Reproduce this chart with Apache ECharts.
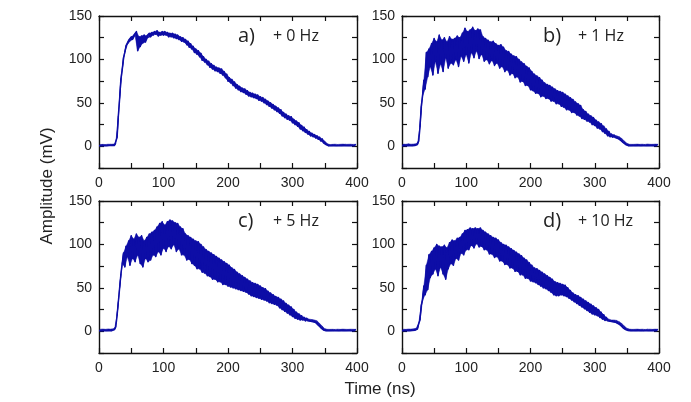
<!DOCTYPE html>
<html><head><meta charset="utf-8">
<script src="https://cdn.jsdelivr.net/npm/echarts@6/dist/echarts.min.js"></script>
<style>html,body{margin:0;padding:0;background:#fff}#c{width:691px;height:402px}</style>
</head><body><div id="c"></div>
<script>
// Sample times: "lo" values at t = 0,4,8,...,396 ns ; "hi" values at t = 2,6,10,...,398 ns
const xTicks = [0, 100, 200, 300, 400];
const yTicks = [0, 50, 100, 150];
const panelLetters = ['a)', 'b)', 'c)', 'd)'];
const panelFreqs = ['+ 0 Hz', '+ 1 Hz', '+ 5 Hz', '+ 10 Hz'];

const aLo = [0.5,0.8,0.6,0.7,1,0.8,1,10,55,88,
  108,117,121,123,127,110,115,119,120,125,
  126,128,129,127,128,128,128,126,126,125,
  124,123,121,120,117,114,112,108,106,103,
  99,97,94,91,89,87,86,84,82,79,
  75,73,70,67,65,63,62,60,58,57,
  56,55,53,52,50,48,46,44,42,40,
  38,35,33,31,30,27,25,23,20,18,
  16,14,12,11,9.5,8,6,4,2,0.6,
  0.6,0.8,0.5,0.7,0.6,0.9,0.7,0.6,0.8,0.7];
const aHi = [2,2.2,2,2.4,2.3,2.5,3,35,78,102,
  116,122,126,128,132,126,127,128,127,130,
  131,132,133,131,132,132,131,130,130,129,
  128,126,125,123,121,118,115,112,110,107,
  103,100,98,95,93,91,90,89,86,83,
  79,77,74,71,69,67,66,64,62,61,
  60,59,57,56,54,52,50,48,46,44,
  42,39,37,35,34,31,29,27,24,22,
  19,17,15,13.5,12,10.5,8.5,6,3,2,
  2.2,2.4,2.1,2.3,2.5,2.2,2.3,2.4,2.1,2.3];

const bLo = [0.6,0.8,0.5,0.9,0.7,1,2,22,58,66,
  80,92,82,98,84,95,86,102,90,96,
  94,100,92,104,98,106,96,108,102,110,
  101,106,98,100,95,99,93,96,90,92,
  86,88,82,84,79,80,74,75,70,70,
  65,64,61,61,57,58,55,55,52,52,
  49,49,46,45,42,42,39,39,36,35,
  32,31,29,28,25,24,21,20,17,15,
  12,11,10.5,10,9,7,4.5,2,0.7,0.5,
  0.7,0.6,0.8,0.5,0.9,0.6,0.7,0.8,0.6,0.7];
const bHi = [2.5,2.3,2.8,2.4,2.6,2.9,6,46,76,108,
  112,118,124,120,128,122,125,120,126,123,
  124,127,125,130,136,132,134,137,133,135,
  134,126,124,122,120,121,118,116,117,114,
  110,109,106,104,103,100,97,95,92,90,
  86,83,81,79,76,73,71,70,68,66,
  64,63,62,60,58,56,54,51,49,47,
  42,40,37,35,33,30,28,26,23,20,
  17,14,13,12,11,9,6,3.5,2.3,2.2,
  2.3,2.5,2.2,2.4,2.1,2.6,2.3,2.2,2.5,2.3];

const cLo = [0.7,0.5,0.8,0.6,0.9,0.7,2,18,50,78,
  74,86,76,84,80,88,78,74,84,80,
  82,88,86,92,88,96,92,98,95,100,
  92,95,88,88,82,83,78,76,72,72,
  68,67,64,63,60,60,57,57,54,54,
  52,51,50,49,48,47,46,45,43,41,
  40,39,38,37,36,35,33,32,31,30,
  27,25,23,21,19,17,15,14,13,13,
  12,12,11.5,11,10,7,4,1.5,0.6,0.5,
  0.6,0.8,0.7,0.5,0.8,0.6,0.7,0.9,0.6,0.7];
const cHi = [2.4,2.6,2.3,2.7,2.5,2.8,5,34,66,90,
  98,104,110,106,112,108,110,104,108,112,
  114,116,120,124,126,122,126,128,127,125,
  124,120,118,112,110,108,106,104,103,100,
  97,94,92,90,88,86,84,82,80,78,
  76,73,71,68,66,64,62,60,58,56,
  55,54,52,50,49,46,44,42,40,39,
  37,35,32,30,28,25,22,20,18,16,
  15,14,13.5,13,12,9,6,3,2.3,2.2,
  2.3,2.1,2.4,2.2,2.5,2.3,2.2,2.4,2.3,2.2];

const dLo = [0.6,0.8,0.5,0.7,0.9,1.2,2.5,13,36,42,
  48,62,66,72,64,74,66,60,72,78,
  76,84,82,90,88,94,94,99,96,101,
  97,98,94,94,89,89,85,86,81,81,
  77,77,73,73,69,69,65,65,61,61,
  58,57,56,54,52,50,49,47,45,42,
  41,41,42,41,40,38,36,34,32,30,
  28,26,24,22,20,19,18,16,14,12.5,
  12,11.5,11,10.5,9,7,4,2,0.8,0.6,
  0.7,0.6,0.8,0.5,0.7,0.9,0.6,0.7,0.8,0.6];
const dHi = [2.4,2.2,2.6,2.5,2.8,3.5,9,30,52,76,
  88,92,96,100,98,97,99,96,102,105,
  104,107,108,112,116,117,119,118,119,118,
  119,116,114,112,110,108,107,105,102,100,
  99,97,95,93,91,89,87,84,82,79,
  76,73,72,70,68,66,64,62,60,57,
  56,55,54,53,50,47,44,42,41,39,
  37,35,33,31,29,27,25,22,19,16,
  14,13,13,12.5,11,9,6,3.5,2.5,2.2,
  2.3,2.5,2.2,2.4,2.1,2.3,2.4,2.2,2.5,2.3];

const seriesLo = [aLo, bLo, cLo, dLo];
const seriesHi = [aHi, bHi, cHi, dHi];
const LINE = '#0d0da6';

function build(lo, hi) {
  const out = [];
  for (let k = 0; k < lo.length; k++) {
    out.push([4 * k, lo[k]]);
    out.push([4 * k + 2, hi[k]]);
  }
  return out;
}
function bandData(lo) {
  return lo.map((v, k) => [4 * k, v, k]);
}

const grids = [
  {left: 99, top: 16, width: 258, height: 152},
  {left: 402, top: 16, width: 257, height: 152},
  {left: 99, top: 201, width: 258, height: 152},
  {left: 402, top: 201, width: 257, height: 152}
];

const axisLine = {lineStyle: {color: '#111', width: 1.4}};
const tickStyle = {inside: true, length: 5, lineStyle: {color: '#111', width: 1.2}};
const labelFont = {fontFamily: '"Liberation Sans", Arial, sans-serif', fontSize: 14, color: '#222'};

const xAxis = [], yAxis = [], series = [], graphic = [];
grids.forEach((g, i) => {
  xAxis.push({gridIndex: i, type: 'value', min: 0, max: 400, interval: 50, position: 'bottom',
    axisLine: Object.assign({onZero: false}, axisLine), axisTick: tickStyle, splitLine: {show: false},
    axisLabel: Object.assign({margin: 8, formatter: v => xTicks.includes(v) ? String(v) : ''}, labelFont)});
  xAxis.push({gridIndex: i, type: 'value', min: 0, max: 400, interval: 50, position: 'top',
    axisLine: Object.assign({onZero: false}, axisLine), axisTick: tickStyle, splitLine: {show: false},
    axisLabel: {show: false}});
  yAxis.push({gridIndex: i, type: 'value', min: -25, max: 150, interval: 25, position: 'left',
    axisLine: Object.assign({onZero: false}, axisLine), axisTick: tickStyle, splitLine: {show: false},
    axisLabel: Object.assign({margin: 7, formatter: v => yTicks.includes(v) ? String(v) : ''}, labelFont)});
  yAxis.push({gridIndex: i, type: 'value', min: -25, max: 150, interval: 25, position: 'right',
    axisLine: Object.assign({onZero: false}, axisLine), axisTick: tickStyle, splitLine: {show: false},
    axisLabel: {show: false}});
  const lo = seriesLo[i], hi = seriesHi[i];
  series.push({type: 'custom', xAxisIndex: 2 * i, yAxisIndex: 2 * i, data: bandData(lo),
    encode: {x: 0, y: 1}, silent: true, animation: false, clip: true,
    renderItem: (params, api) => {
      const k = api.value(2);
      if (k >= lo.length - 1) return null;
      const pts = [api.coord([4 * k, lo[k]]), api.coord([4 * k + 2, hi[k]]),
                   api.coord([4 * k + 6, hi[k + 1]]), api.coord([4 * k + 4, lo[k + 1]])];
      return {type: 'polygon', shape: {points: pts}, style: {fill: LINE, stroke: LINE, lineWidth: 0.5}};
    }});
  series.push({type: 'line', xAxisIndex: 2 * i, yAxisIndex: 2 * i, data: build(lo, hi),
    showSymbol: false, symbol: 'none', silent: true, animation: false,
    lineStyle: {color: LINE, width: 1.5, join: 'round'}});
  const lx = i % 2 === 0 ? 238 : 543;
  const ly = i < 2 ? 39 : 224;
  graphic.push({type: 'text', left: lx, top: ly - 13, style: {text: panelLetters[i], font: '20px "Open Sans", sans-serif', fill: '#222'}});
  graphic.push({type: 'text', left: lx + 35, top: ly - 11, style: {text: panelFreqs[i], font: '16px "Open Sans", sans-serif', fill: '#222'}});
});

graphic.push({type: 'text', x: 47, y: 186, rotation: Math.PI / 2,
  style: {text: 'Amplitude (mV)', font: '17px "Liberation Sans", Arial, sans-serif', fill: '#222', align: 'center', verticalAlign: 'middle'}});
graphic.push({type: 'text', x: 380, y: 389,
  style: {text: 'Time (ns)', font: '17px "Liberation Sans", Arial, sans-serif', fill: '#222', align: 'center', verticalAlign: 'middle'}});

const chart = echarts.init(document.getElementById('c'), null, {renderer: 'canvas'});
chart.setOption({animation: false, grid: grids, xAxis, yAxis, series, graphic});
</script></body></html>
